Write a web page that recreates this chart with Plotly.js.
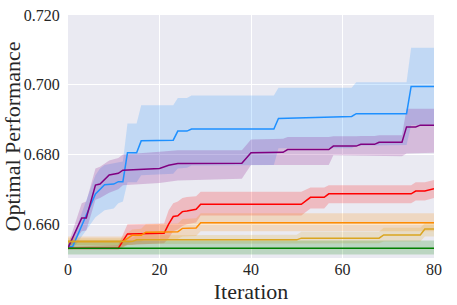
<!DOCTYPE html>
<html>
<head>
<meta charset="utf-8">
<script src="https://cdn.plot.ly/plotly-3.0.1.min.js"></script>
<style>html,body{margin:0;padding:0;background:#fff;}#chart{width:457px;height:305px;}</style>
</head>
<body>
<div id="chart"></div>
<script>
// Blue series
const blueX = [0, 1, 6, 7, 8, 10, 11, 12, 13, 15, 16, 23, 24, 26, 27, 45, 46, 54, 62, 63, 74, 75, 80];
const blueMean = [0.6535, 0.6535, 0.6687, 0.6700, 0.6713, 0.6715, 0.6722, 0.6722, 0.6805, 0.6805, 0.6839, 0.6841, 0.6867, 0.6867, 0.6873, 0.6873, 0.6903, 0.6906, 0.6909, 0.6917, 0.6917, 0.6995, 0.6995];
const blueHi = [0.6540, 0.6560, 0.6740, 0.6760, 0.6770, 0.6775, 0.6778, 0.6780, 0.6889, 0.6889, 0.6941, 0.6941, 0.6962, 0.6962, 0.6969, 0.6969, 0.6991, 0.6991, 0.6991, 0.7007, 0.7007, 0.7106, 0.7106];
const blueLo = [0.6528, 0.6528, 0.6620, 0.6630, 0.6640, 0.6645, 0.6660, 0.6665, 0.6720, 0.6720, 0.6740, 0.6745, 0.6760, 0.6762, 0.6768, 0.6770, 0.6818, 0.6818, 0.6818, 0.6825, 0.6827, 0.6884, 0.6884];

// Purple series
const purpleX = [0, 3, 4, 6, 7, 9, 11, 12, 20, 22, 24, 38, 40, 47, 48, 57, 58, 63, 64, 67, 68, 73, 74, 76, 77, 80];
const purpleMean = [0.6532, 0.6618, 0.6618, 0.6712, 0.6715, 0.6741, 0.6746, 0.6755, 0.6760, 0.6769, 0.6774, 0.6775, 0.6805, 0.6806, 0.6814, 0.6814, 0.6824, 0.6824, 0.6829, 0.6829, 0.6835, 0.6835, 0.6879, 0.6879, 0.6884, 0.6884];
const purpleHi = [0.6540, 0.6660, 0.6665, 0.6760, 0.6765, 0.6783, 0.6790, 0.6800, 0.6808, 0.6810, 0.6812, 0.6812, 0.6843, 0.6845, 0.6850, 0.6850, 0.6852, 0.6852, 0.6853, 0.6853, 0.6855, 0.6855, 0.6931, 0.6931, 0.6931, 0.6931];
const purpleLo = [0.6525, 0.6580, 0.6582, 0.6670, 0.6675, 0.6690, 0.6700, 0.6712, 0.6718, 0.6722, 0.6725, 0.6730, 0.6770, 0.6770, 0.6770, 0.6770, 0.6798, 0.6798, 0.6797, 0.6797, 0.6796, 0.6795, 0.6803, 0.6803, 0.6805, 0.6805];

// Red series
const redX = [0, 11, 13, 21, 22, 23, 24, 25, 26, 28, 29, 51, 53, 56, 57, 75, 76, 78, 80];
const redMean = [0.6531, 0.6531, 0.6572, 0.6574, 0.6600, 0.6622, 0.6624, 0.6636, 0.6638, 0.6643, 0.6657, 0.6657, 0.6677, 0.6677, 0.6687, 0.6687, 0.6695, 0.6695, 0.6702];
const redHi = [0.6535, 0.6540, 0.6600, 0.6602, 0.6640, 0.6660, 0.6665, 0.6675, 0.6678, 0.6680, 0.6693, 0.6693, 0.6705, 0.6705, 0.6712, 0.6712, 0.6720, 0.6720, 0.6727];
const redLo = [0.6527, 0.6527, 0.6540, 0.6545, 0.6560, 0.6580, 0.6585, 0.6595, 0.6600, 0.6605, 0.6625, 0.6625, 0.6645, 0.6645, 0.6660, 0.6660, 0.6668, 0.6668, 0.6675];

// Dark orange series
const orangeX = [0, 12, 14, 16, 17, 24, 25, 28, 29, 80];
const orangeMean = [0.6550, 0.6550, 0.6568, 0.6568, 0.6577, 0.6578, 0.6588, 0.6589, 0.6604, 0.6604];
const orangeHi = [0.6565, 0.6565, 0.6585, 0.6587, 0.6600, 0.6602, 0.6615, 0.6617, 0.6631, 0.6631];
const orangeLo = [0.6535, 0.6535, 0.6550, 0.6550, 0.6557, 0.6558, 0.6565, 0.6566, 0.6580, 0.6580];

// Goldenrod series
const goldX = [0, 14, 15, 50, 51, 68, 69, 77, 78, 80];
const goldMean = [0.6550, 0.6550, 0.6555, 0.6555, 0.6560, 0.6560, 0.6569, 0.6569, 0.6586, 0.6586];
const goldHi = [0.6560, 0.6560, 0.6568, 0.6570, 0.6578, 0.6578, 0.6590, 0.6590, 0.6603, 0.6603];
const goldLo = [0.6540, 0.6540, 0.6543, 0.6543, 0.6545, 0.6545, 0.6550, 0.6550, 0.6565, 0.6565];

// Green series
const greenX = [0, 80];
const greenMean = [0.6531, 0.6531];
const greenHi = [0.6553, 0.6553];
const greenLo = [0.6513, 0.6513];

const yTickVals = [0.66, 0.68, 0.70, 0.72];
const yTickText = ['0.660', '0.680', '0.700', '0.720'];
const xTickVals = [0, 20, 40, 60, 80];
const xTickText = ['0', '20', '40', '60', '80'];

const series = [
  {x: blueX, m: blueMean, hi: blueHi, lo: blueLo, c: [30,144,255]},
  {x: purpleX, m: purpleMean, hi: purpleHi, lo: purpleLo, c: [128,0,128]},
  {x: redX, m: redMean, hi: redHi, lo: redLo, c: [255,0,0]},
  {x: orangeX, m: orangeMean, hi: orangeHi, lo: orangeLo, c: [255,140,0]},
  {x: goldX, m: goldMean, hi: goldHi, lo: goldLo, c: [218,165,32]},
  {x: greenX, m: greenMean, hi: greenHi, lo: greenLo, c: [0,128,0]}
];

const traces = [];
series.forEach(s => {
  traces.push({
    x: s.x.concat(s.x.slice().reverse()),
    y: s.hi.concat(s.lo.slice().reverse()),
    type: 'scatter', mode: 'lines', fill: 'toself',
    fillcolor: 'rgba(' + s.c.join(',') + ',0.2)',
    line: {width: 0}, hoverinfo: 'skip', showlegend: false
  });
});
series.forEach(s => {
  traces.push({
    x: s.x, y: s.m, type: 'scatter', mode: 'lines',
    line: {color: 'rgb(' + s.c.join(',') + ')', width: 1.5},
    showlegend: false
  });
});

const FONT = 'Liberation Serif, Times New Roman, serif';
const layout = {
  width: 457, height: 305,
  margin: {l: 68, r: 23, t: 15, b: 47},
  paper_bgcolor: '#ffffff',
  plot_bgcolor: '#EAEAF2',
  font: {family: FONT, color: '#262626', size: 16},
  showlegend: false,
  xaxis: {
    range: [0, 80], tickvals: xTickVals, ticktext: xTickText,
    showgrid: true, gridcolor: '#ffffff', gridwidth: 1, zeroline: false, showline: false,
    ticks: '', 
    tickfont: {family: FONT, size: 16},
    title: {text: 'Iteration', font: {family: FONT, size: 22}, standoff: 6}
  },
  yaxis: {
    range: [0.6503, 0.7200], tickvals: yTickVals, ticktext: yTickText,
    showgrid: true, gridcolor: '#ffffff', gridwidth: 1, zeroline: false, showline: false,
    ticks: 'outside', ticklen: 4, tickcolor: 'rgba(0,0,0,0)',
    tickfont: {family: FONT, size: 16},
    title: {text: 'Optimal Performance', font: {family: FONT, size: 22}, standoff: 2}
  }
};

Plotly.newPlot('chart', traces, layout, {displayModeBar: false, staticPlot: true});
</script>
</body>
</html>
